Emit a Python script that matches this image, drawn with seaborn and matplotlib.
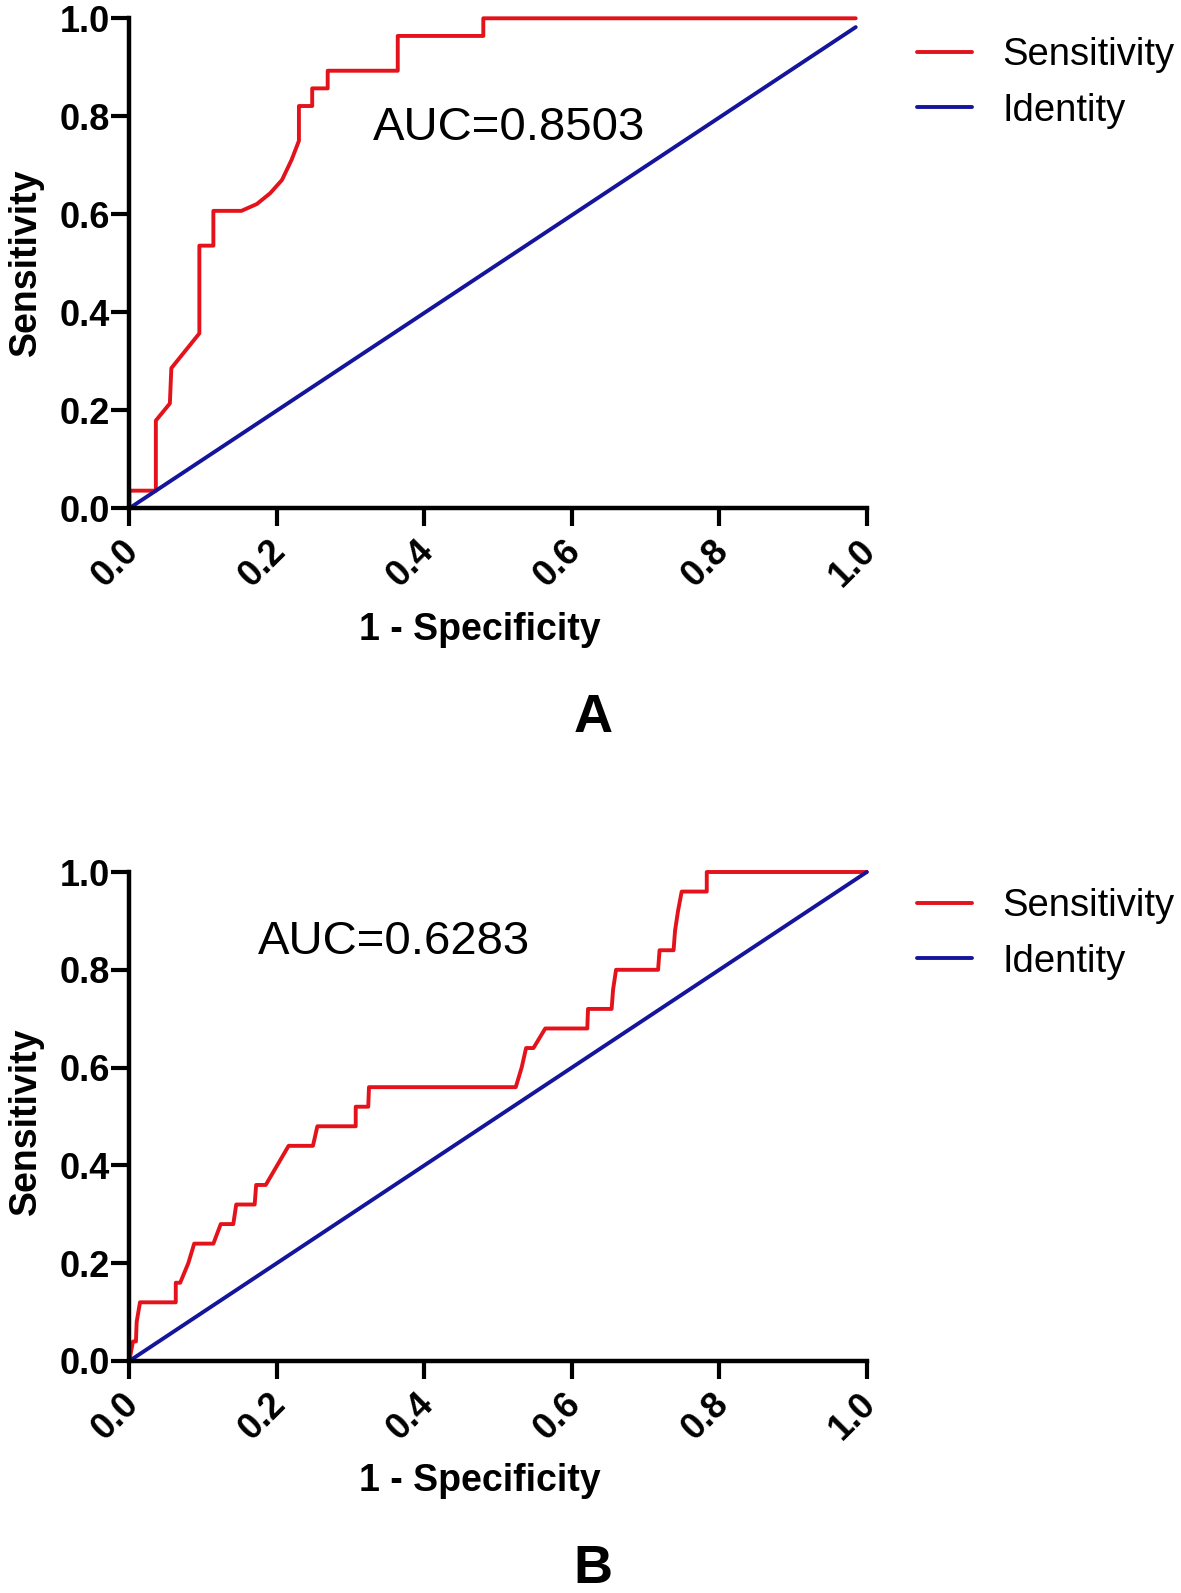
import matplotlib
matplotlib.use('Agg')
import matplotlib.pyplot as plt
import matplotlib.transforms as mtrans
from matplotlib.lines import Line2D
import pandas as pd
import seaborn as sns

# ROC curve, panel A (1 - specificity, sensitivity)
fpr_a = [0.0, 0.0, 0.036, 0.036, 0.055, 0.057, 0.095, 0.095, 0.114, 0.114, 0.152,
         0.173, 0.191, 0.207, 0.220, 0.230, 0.230, 0.248, 0.248, 0.269, 0.269,
         0.364, 0.364, 0.480, 0.480, 0.985]
tpr_a = [0.0, 0.036, 0.036, 0.179, 0.214, 0.286, 0.357, 0.536, 0.536, 0.607, 0.607,
         0.621, 0.643, 0.670, 0.711, 0.750, 0.821, 0.821, 0.857, 0.857, 0.893,
         0.893, 0.964, 0.964, 1.0, 1.0]
ident_a_x = [0.0, 0.985]
ident_a_y = [0.0, 0.982]

# ROC curve, panel B
fpr_b = [0.0, 0.005, 0.009, 0.010, 0.0145, 0.063, 0.063, 0.069, 0.080, 0.088, 0.114,
         0.124, 0.141, 0.145, 0.170, 0.172, 0.185, 0.216, 0.249, 0.255, 0.307,
         0.307, 0.324, 0.325, 0.524, 0.532, 0.538, 0.548, 0.564, 0.621, 0.622,
         0.654, 0.656, 0.660, 0.717, 0.719, 0.738, 0.740, 0.744, 0.749, 0.783,
         0.783, 1.0]
tpr_b = [0.0, 0.04, 0.04, 0.08, 0.12, 0.12, 0.16, 0.16, 0.20, 0.24, 0.24,
         0.28, 0.28, 0.32, 0.32, 0.36, 0.36, 0.44, 0.44, 0.48, 0.48,
         0.52, 0.52, 0.56, 0.56, 0.60, 0.64, 0.64, 0.68, 0.68, 0.72,
         0.72, 0.76, 0.80, 0.80, 0.84, 0.84, 0.88, 0.92, 0.96, 0.96,
         1.0, 1.0]
ident_b_x = [0.0, 1.0]
ident_b_y = [0.0, 1.0]

auc_text = ['AUC=0.8503', 'AUC=0.6283']
panel_letters = ['A', 'B']
ticks = [0.0, 0.2, 0.4, 0.6, 0.8, 1.0]
tick_labels = ['0.0', '0.2', '0.4', '0.6', '0.8', '1.0']
series_names = ['Sensitivity', 'Identity']
colors = {'Sensitivity': '#e3121b', 'Identity': '#15159c'}

sns.set_style('ticks')
plt.rcParams['font.family'] = ['Liberation Sans', 'DejaVu Sans']
plt.rcParams['text.color'] = 'black'
plt.rcParams['axes.labelcolor'] = 'black'
plt.rcParams['xtick.color'] = 'black'
plt.rcParams['ytick.color'] = 'black'

W, H = 1181, 1593
fig = plt.figure(figsize=(W / 100, H / 100), dpi=100)


def draw_panel(rect, fpr, tpr, ix, iy, auc, auc_xy, letter, letter_y, legend_top, xlab_y, ylab_y):
    ax = fig.add_axes(rect)
    df = pd.concat([
        pd.DataFrame({'x': fpr, 'y': tpr, 'curve': series_names[0]}),
        pd.DataFrame({'x': ix, 'y': iy, 'curve': series_names[1]}),
    ])
    sns.lineplot(data=df, x='x', y='y', hue='curve', palette=colors, sort=False,
                 estimator=None, linewidth=2.8, legend=False, ax=ax)
    for ln in ax.lines:
        ln.set_clip_on(False)
    ax.set_xlim(0, 1)
    ax.set_ylim(0, 1)
    ax.set_xticks(ticks, tick_labels)
    ax.set_yticks(ticks, tick_labels)
    for side in ['top', 'right']:
        ax.spines[side].set_visible(False)
    for side in ['left', 'bottom']:
        ax.spines[side].set_linewidth(3.2)
        ax.spines[side].set_color('black')
    ax.tick_params(axis='both', length=13, width=3, color='black', labelsize=26,
                   labelcolor='black')
    ax.tick_params(axis='y', pad=1)
    ax.tick_params(axis='x', pad=14)
    for lab in ax.get_xticklabels() + ax.get_yticklabels():
        lab.set_fontweight('bold')
    off = mtrans.ScaledTranslation(4 / 100, 0, fig.dpi_scale_trans)
    for lab in ax.get_xticklabels():
        lab.set_rotation(45)
        lab.set_ha('right')
        lab.set_va('center')
        lab.set_rotation_mode('anchor')
        lab.set_transform(lab.get_transform() + off)
    ax.set_xlabel('1 - Specificity', fontsize=27, fontweight='bold', va='center')
    ax.xaxis.set_label_coords(0.475, xlab_y)
    ax.set_ylabel('Sensitivity', fontsize=27, fontweight='bold', va='center', ha='center')
    ax.yaxis.set_label_coords(-0.140, ylab_y)
    ax.text(auc_xy[0], auc_xy[1], auc, fontsize=34, ha='left', va='center')
    fig.text(593 / W, letter_y, letter, fontsize=39, fontweight='bold',
             ha='center', va='center')
    handles = [Line2D([], [], color=colors[n], linewidth=2.8) for n in series_names]
    ax.legend(handles, series_names, loc='upper left',
              bbox_to_anchor=(917 / W, legend_top), bbox_transform=fig.transFigure,
              frameon=False, fontsize=27.5, handlelength=1.45, handletextpad=0.78,
              borderpad=0, borderaxespad=0, labelspacing=0.52)
    return ax


draw_panel([129.3 / W, 1 - 508.3 / H, 737.5 / W, 490 / H], fpr_a, tpr_a,
           ident_a_x, ident_a_y, auc_text[0], (0.33, 0.777), panel_letters[0],
           1 - 718 / H, 1 - 37 / H, -0.248, 0.502)
draw_panel([129.3 / W, 1 - 1361 / H, 737.5 / W, 489 / H], fpr_b, tpr_b,
           ident_b_x, ident_b_y, auc_text[1], (0.175, 0.856), panel_letters[1],
           1 - 1569 / H, 1 - 888 / H, -0.245, 0.49)

fig.savefig('out.png', dpi=100)
